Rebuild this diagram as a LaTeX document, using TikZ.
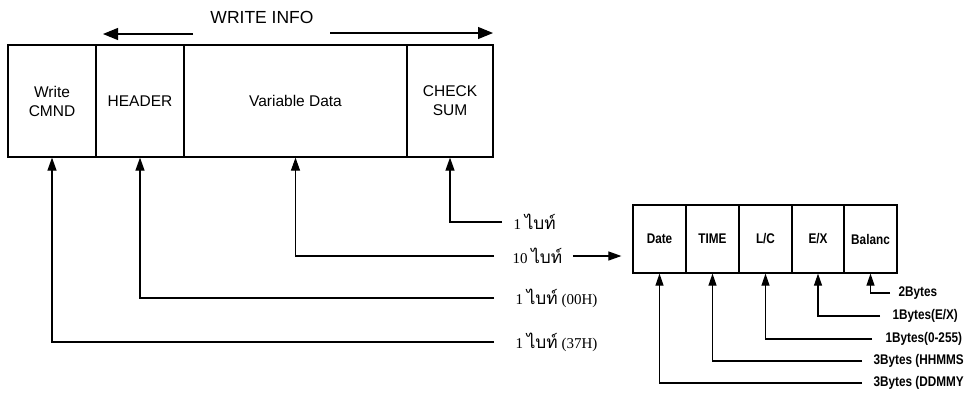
\documentclass[tikz,border=0pt]{standalone}
\usepackage{fontspec}
\setmainfont{Liberation Serif}
\setsansfont{Liberation Sans}
\newfontfamily\thaifont[Script=Thai,Scale=1.15]{Loma}
\newfontfamily\condsans[FakeStretch=0.84]{Liberation Sans}
\usetikzlibrary{arrows.meta}
\newcommand{\tbyte}{{\thaifont ไบท์}}
\begin{document}
\begin{tikzpicture}[x=1pt,y=-1pt, line width=1.1pt,
 cell/.style={draw, line width=1.2pt, inner sep=0pt, minimum height=112pt, font=\sffamily\fontsize{15.5}{19}\selectfont, align=center},
 scell/.style={draw, line width=1.2pt, minimum width=53pt, minimum height=68pt, inner sep=0pt, font=\condsans\bfseries\fontsize{14}{16}\selectfont},
 arr/.style={-{Triangle[length=13pt,width=9pt]}},
 warr/.style={-{Triangle[length=15pt,width=12pt]}},
 sarr/.style={-{Triangle[length=12pt,width=8pt]}},
 thl/.style={anchor=west, inner sep=0pt, font=\rmfamily\fontsize{15}{18}\selectfont},
 bl/.style={anchor=west, inner sep=0pt, font=\condsans\bfseries\fontsize{14}{16}\selectfont},
]
\useasboundingbox (0,0) rectangle (971,392);
% main frame
\node[cell, minimum width=88pt] (wc) at (52,101) {Write\\CMND};
\node[cell, minimum width=88pt] (hd) at (140,101) {HEADER};
\node[cell, minimum width=223pt] (vd) at (295.5,101) {Variable Data};
\node[cell, minimum width=86pt] (cs) at (450,101) {CHECK\\SUM};
% write info
\node[font=\sffamily\fontsize{17.5}{20}\selectfont, inner sep=0pt] (wi) at (262,17) {WRITE INFO};
\coordinate (wl1) at (193,34);
\coordinate (wl2) at (103,34);
\coordinate (wr1) at (330,33);
\coordinate (wr2) at (493,33);
\draw[warr] (wl1) -- (wl2);
\draw[warr] (wr1) -- (wr2);
% small frame
\node[scell] (date) at (659.5,239) {Date};
\node[scell] (time) at (712.5,239) {TIME};
\node[scell] (lc) at (765.5,239) {L/C};
\node[scell] (ex) at (818,239) {E/X};
\node[scell] (bal) at (870.5,239) {Balanc};
% thai labels
\node[thl] (t1) at (513,222) {1 \tbyte};
\node[thl] (t2) at (512,256) {10 \tbyte};
\node[thl] (t3) at (515,298) {1 \tbyte{} (00H)};
\node[thl] (t4) at (515,342) {1 \tbyte{} (37H)};
\draw[arr] ([xshift=-11pt]t1.west) -| (cs.south);
\draw[arr] ([xshift=-18pt]t2.west) -| (vd.south);
\draw[arr] ([xshift=-21pt]t3.west) -| (hd.south);
\draw[arr] ([xshift=-21pt]t4.west) -| (wc.south);
\draw[arr] ([xshift=10pt]t2.east) -- ([xshift=-11pt]t2.east -| date.west);
% byte labels
\node[bl] (b5) at (898,293) {2Bytes};
\node[bl] (b4) at (892,316) {1Bytes(E/X)};
\node[bl] (b3) at (885,339) {1Bytes(0-255)};
\node[bl] (b2) at (873,361) {3Bytes (HHMMS};
\node[bl] (b1) at (873,383) {3Bytes (DDMMY};
\draw[sarr] ([xshift=-8pt]b5.west) -| (bal.south);
\draw[sarr] ([xshift=-12pt]b4.west) -| (ex.south);
\draw[sarr] ([xshift=-13pt]b3.west) -| (lc.south);
\draw[sarr] ([xshift=-11pt]b2.west) -| (time.south);
\draw[sarr] ([xshift=-11pt]b1.west) -| (date.south);
\end{tikzpicture}
\end{document}
